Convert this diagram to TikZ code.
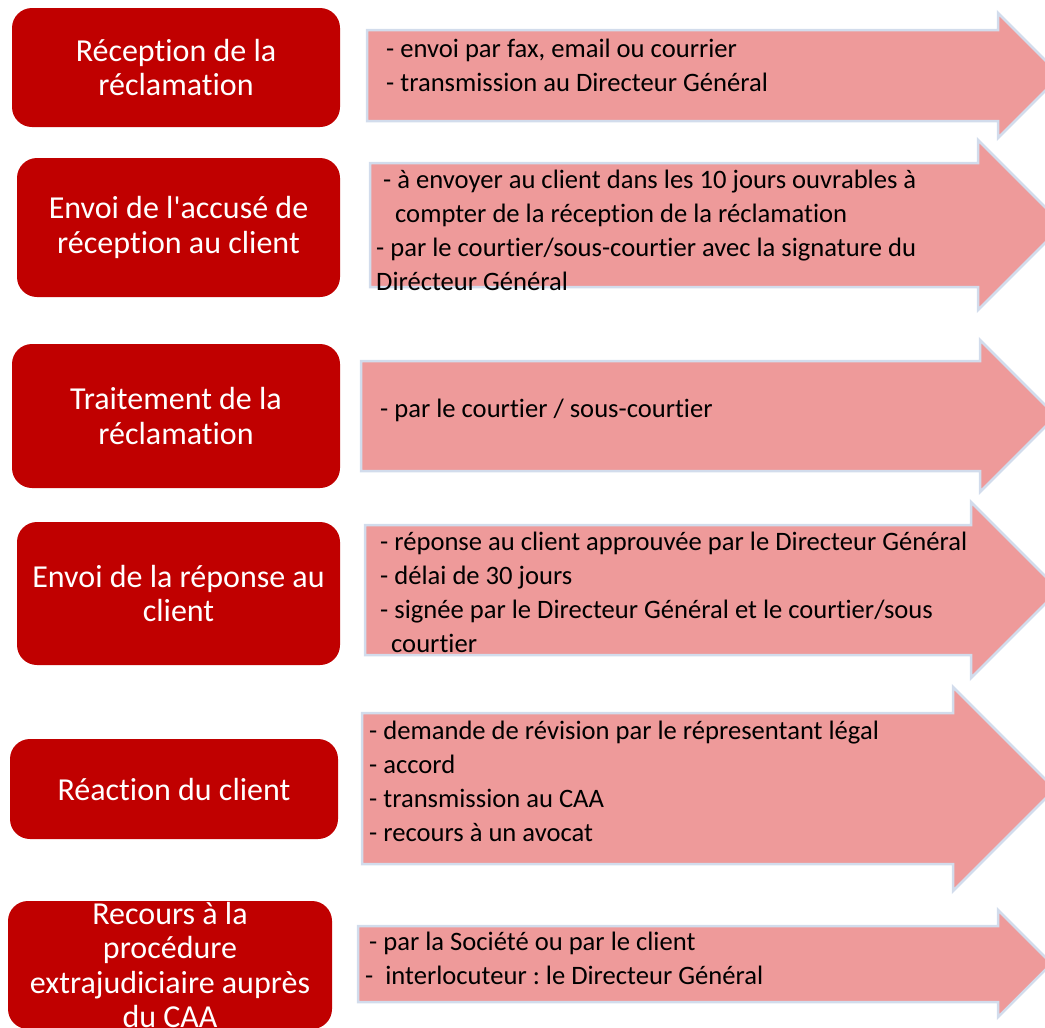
\documentclass[tikz,border=0pt]{standalone}
\usepackage{fontspec}
\setmainfont{Carlito}[Ligatures={NoCommon,TeXOff}]
\frenchspacing
\definecolor{boxred}{HTML}{C00000}
\definecolor{arrpink}{HTML}{EE9A9A}
\definecolor{arredge}{HTML}{D2DCEC}

\begin{document}
\begin{tikzpicture}[x=1pt,y=-1pt,line join=miter,
	redbox/.style={fill=boxred,rounded corners=20pt,text=white,align=center,inner sep=0pt,font=\fontsize{32}{34.5}\selectfont},
	arr/.style={fill=arrpink,draw=arredge,line width=2.5pt},
	lst/.style={anchor=west,align=left,inner sep=0pt,font=\fontsize{26.6}{34}\selectfont}]
	\useasboundingbox (0,0) rectangle (1045,1028);
	\clip (0,0) rectangle (1045,1028);
	\foreach \xa/\ya/\yb/\xh/\ha/\hb in {367/30/121/998/13/138,370/163/287/978/140/310,361/361/471/980/340/492,365/525/655/971/502/678,362/713/864/953/687/891,358/926/1002/998/910/1017}
	{\draw[arr] (\xa,\ya)--(\xh,\ya)--(\xh,\ha)--({\xh+(\hb-\ha)/2},{(\ha+\hb)/2})--(\xh,\hb)--(\xh,\yb)--(\xa,\yb)--cycle;}
	\node[redbox,minimum width=328pt,minimum height=119pt] (recep) at (176,67.5) {Réception de la\\réclamation};
	\node[redbox,minimum width=323pt,minimum height=139pt] (accuse) at (178.5,227.5) {Envoi de l'accusé de\\réception au client};
	\node[redbox,minimum width=328pt,minimum height=144pt] (traite) at (176,416) {Traitement de la\\réclamation};
	\node[redbox,minimum width=323pt,minimum height=143pt] (reponse) at (178.5,593.5) {Envoi de la réponse au\\client};
	\node[redbox,minimum width=328pt,minimum height=100pt] (reaction) at (174,789) {Réaction du client};
	\node[redbox,minimum width=324pt,minimum height=128pt] (recours) at (170,965) {Recours à la\\procédure\\extrajudiciaire auprès\\du CAA};
	\node[lst] (recepl) at (386,65) {- envoi par fax, email ou courrier\\- transmission au Directeur Général};
	\node[lst] (accusel) at (376,230) {\hspace*{7pt}- à envoyer au client dans les 10 jours ouvrables à\\\hspace*{19pt}compter de la réception de la réclamation\\- par le courtier/sous-courtier avec la signature du\\Dirécteur Général};
	\node[lst] (traitel) at (380,410) {- par le courtier / sous-courtier};
	\node[lst] (reponsel) at (380,592) {- réponse au client approuvée par le Directeur Général\\- délai de 30 jours\\- signée par le Directeur Général et le courtier/sous\\\hspace*{11pt}courtier};
	\node[lst] (reactionl) at (369,781) {- demande de révision par le répresentant légal\\- accord\\- transmission au CAA\\- recours à un avocat};
	\node[lst] (recoursl) at (365,958) {\hspace*{4pt}- par la Société ou par le client\\-\ \ interlocuteur : le Directeur Général};
\end{tikzpicture}
\end{document}
